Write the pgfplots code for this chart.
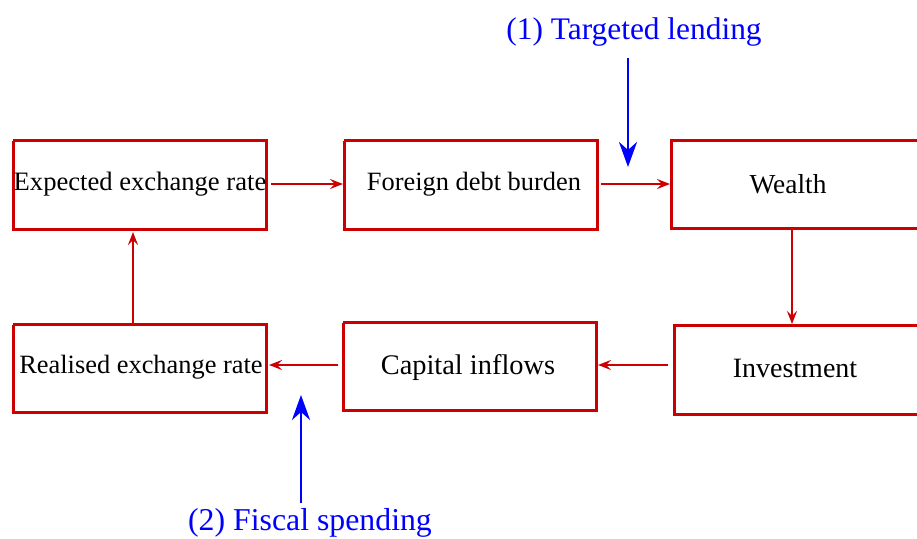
\documentclass[border=0pt]{standalone}
\usepackage{pgfplots}
\pgfplotsset{compat=1.18}
\usepackage{fontspec}
\setmainfont{Liberation Serif}
\usetikzlibrary{arrows.meta}
\definecolor{boxred}{RGB}{204,0,0}
\definecolor{pblue}{RGB}{0,0,255}
\begin{document}
\begin{tikzpicture}
\useasboundingbox (0,0) rectangle (458.5pt,269.5pt);
\begin{axis}[
  at={(0,0)}, anchor=south west,
  scale only axis, width=458.5pt, height=269.5pt,
  xmin=0, xmax=917, ymin=0, ymax=539, y dir=reverse,
  hide axis, clip=true,
]
% boxes
\addplot[boxred, line width=1.5pt, line join=miter] coordinates {(13,141) (266,141) (266,230) (13,230) (13,141)};
\addplot[boxred, line width=1.5pt, line join=miter] coordinates {(344,141) (597,141) (597,230) (344,230) (344,141)};
\addplot[boxred, line width=1.5pt, line join=miter] coordinates {(940,141) (671,141) (671,229) (940,229)};
\addplot[boxred, line width=1.5pt, line join=miter] coordinates {(13,325) (266,325) (266,413) (13,413) (13,325)};
\addplot[boxred, line width=1.5pt, line join=miter] coordinates {(343,323) (596,323) (596,411) (343,411) (343,323)};
\addplot[boxred, line width=1.5pt, line join=miter] coordinates {(940,326) (674,326) (674,415) (940,415)};
% red arrows
\addplot[boxred, line width=1pt, -{Stealth[length=6.5pt,width=5pt,inset=2.4pt]}] coordinates {(271,184) (343,184)};
\addplot[boxred, line width=1pt, -{Stealth[length=6.5pt,width=5pt,inset=2.4pt]}] coordinates {(601,184) (670,184)};
\addplot[boxred, line width=1pt, -{Stealth[length=6.5pt,width=5pt,inset=2.4pt]}] coordinates {(792,230) (792,324)};
\addplot[boxred, line width=1pt, -{Stealth[length=6.5pt,width=5pt,inset=2.4pt]}] coordinates {(668,365) (598,365)};
\addplot[boxred, line width=1pt, -{Stealth[length=6.5pt,width=5pt,inset=2.4pt]}] coordinates {(338,365) (269,365)};
\addplot[boxred, line width=1pt, -{Stealth[length=6.5pt,width=5pt,inset=2.4pt]}] coordinates {(133,325) (133,232)};
% blue arrows
\addplot[pblue, line width=1.4pt, -{Stealth[length=12.5pt,width=9pt,inset=4pt]}] coordinates {(628,58) (628,167)};
\addplot[pblue, line width=1.4pt, -{Stealth[length=12.5pt,width=9pt,inset=4pt]}] coordinates {(301,503) (301,395)};
% labels
\node[anchor=base, inner sep=0pt, font=\fontsize{13.3}{15}\selectfont] at (axis cs:140,191) {Expected exchange rate};
\node[anchor=base, inner sep=0pt, font=\fontsize{13.2}{15}\selectfont] at (axis cs:474,191) {Foreign debt burden};
\node[anchor=base, inner sep=0pt, font=\fontsize{13.7}{15}\selectfont] at (axis cs:788,194) {Wealth};
\node[anchor=base, inner sep=0pt, font=\fontsize{13.2}{15}\selectfont] at (axis cs:141,374) {Realised exchange rate};
\node[anchor=base, inner sep=0pt, font=\fontsize{14.2}{16}\selectfont] at (axis cs:468,375) {Capital inflows};
\node[anchor=base, inner sep=0pt, font=\fontsize{14}{16}\selectfont] at (axis cs:795,378) {Investment};
\node[anchor=base, inner sep=0pt, pblue, font=\fontsize{15.7}{18}\selectfont] at (axis cs:634,40) {(1) Targeted lending};
\node[anchor=base, inner sep=0pt, pblue, font=\fontsize{15.9}{18}\selectfont] at (axis cs:310,531) {(2) Fiscal spending};
\end{axis}
\end{tikzpicture}
\end{document}
